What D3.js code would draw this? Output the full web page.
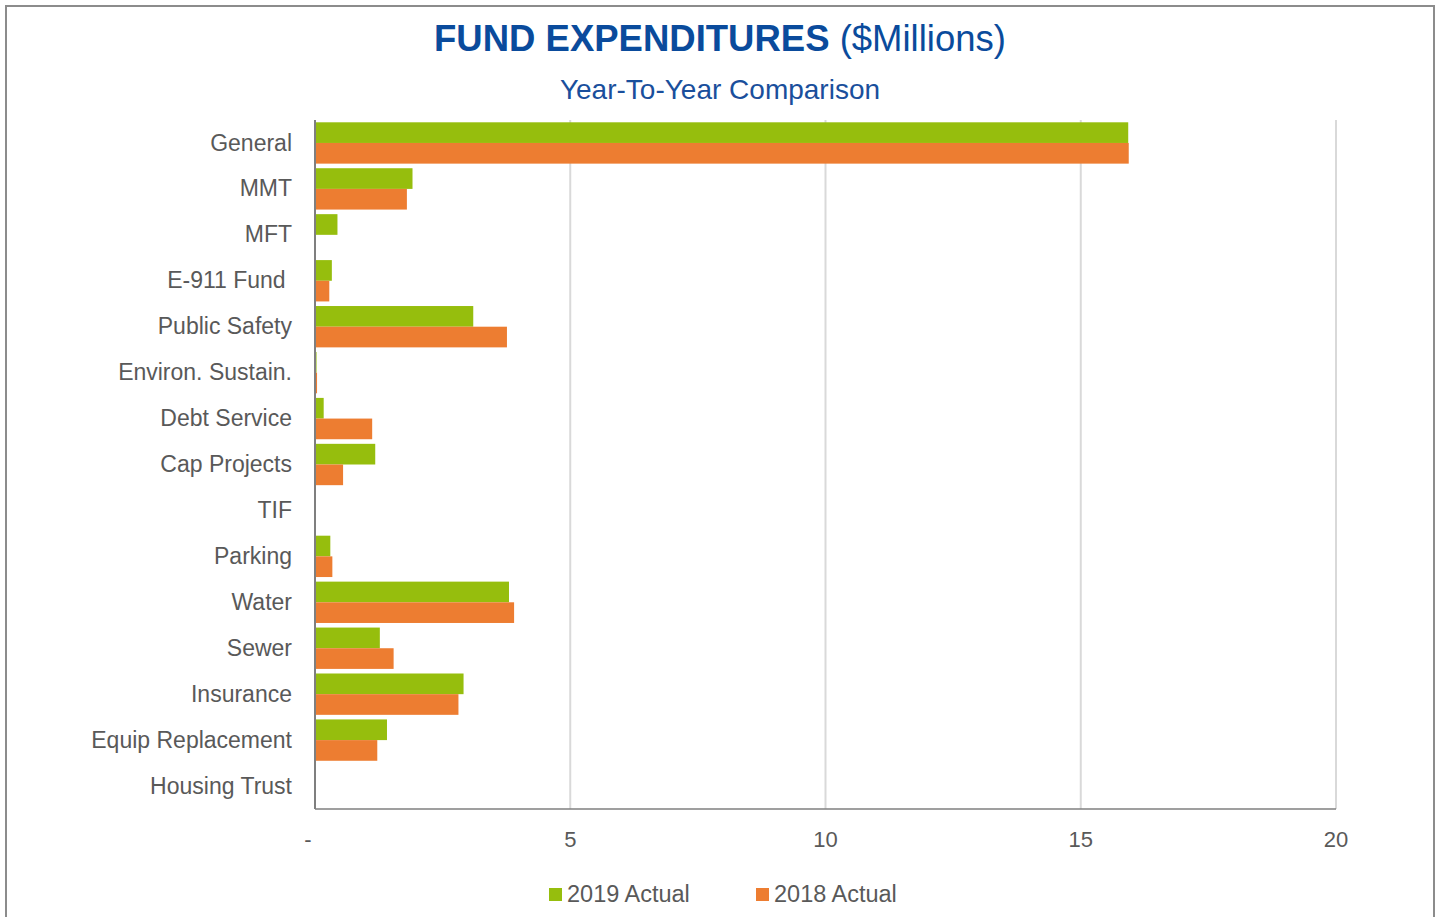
<!DOCTYPE html>
<html>
<head>
<meta charset="utf-8">
<script src="https://cdn.jsdelivr.net/npm/d3@7"></script>
<style>
  body { margin: 0; background: #fff; }
  svg text { font-family: "Liberation Sans", Arial, sans-serif; }
</style>
</head>
<body>
<div id="chart"></div>
<script>
const categories = ['General', 'MMT', 'MFT', 'E-911 Fund ', 'Public Safety', 'Environ. Sustain.',
  'Debt Service', 'Cap Projects', 'TIF', 'Parking', 'Water', 'Sewer', 'Insurance',
  'Equip Replacement', 'Housing Trust'];
const actual2019 = [15.93, 1.91, 0.44, 0.33, 3.10, 0.03, 0.17, 1.18, 0, 0.30, 3.80, 1.27, 2.91, 1.41, 0.01];
const actual2018 = [15.94, 1.80, 0, 0.28, 3.76, 0.04, 1.12, 0.55, 0, 0.34, 3.90, 1.54, 2.81, 1.22, 0.01];
const seriesNames = ['2019 Actual', '2018 Actual'];
const xTicks = [0, 5, 10, 15, 20];

const width = 1440;
const height = 917;
const margin = { top: 120, right: 104, bottom: 108, left: 315 };
const colors = ['#96be0d', '#ed7d31'];
const textColor = '#595959';

const svg = d3.select('#chart')
  .append('svg')
  .attr('width', width)
  .attr('height', height);

// outer frame
svg.append('rect')
  .attr('x', 6).attr('y', 6)
  .attr('width', 1428).attr('height', 920)
  .attr('fill', 'none')
  .attr('stroke', '#8c8c8c')
  .attr('stroke-width', 2);

const x = d3.scaleLinear()
  .domain([0, 20])
  .range([margin.left, width - margin.right]);

const y = d3.scaleBand()
  .domain(categories)
  .range([margin.top, height - margin.bottom])
  .paddingInner(0.1)
  .paddingOuter(0.05);

const ySub = d3.scaleBand()
  .domain(seriesNames)
  .range([0, y.bandwidth()]);

// gridlines
svg.append('g')
  .selectAll('line')
  .data(xTicks.slice(1))
  .join('line')
    .attr('x1', d => x(d)).attr('x2', d => x(d))
    .attr('y1', margin.top).attr('y2', height - margin.bottom)
    .attr('stroke', '#d9d9d9')
    .attr('stroke-width', 2);

// bars
const rows = categories.map((c, i) => ({ c, vals: [actual2019[i], actual2018[i]] }));
svg.append('g')
  .selectAll('g')
  .data(rows)
  .join('g')
    .attr('transform', d => `translate(0,${y(d.c)})`)
  .selectAll('rect')
  .data(d => d.vals.map((v, j) => ({ v, j })))
  .join('rect')
    .attr('x', x(0))
    .attr('y', d => ySub(seriesNames[d.j]))
    .attr('width', d => x(d.v) - x(0))
    .attr('height', ySub.bandwidth())
    .attr('fill', d => colors[d.j]);

// axes lines
svg.append('line')
  .attr('x1', x(0)).attr('x2', x(0))
  .attr('y1', margin.top).attr('y2', height - margin.bottom)
  .attr('stroke', '#7f7f7f').attr('stroke-width', 2);
svg.append('line')
  .attr('x1', x(0)).attr('x2', x(20))
  .attr('y1', height - margin.bottom).attr('y2', height - margin.bottom)
  .attr('stroke', '#7f7f7f').attr('stroke-width', 1.5);

// category labels
svg.append('g')
  .selectAll('text')
  .data(categories)
  .join('text')
    .attr('x', 292)
    .attr('y', d => y(d) + y.bandwidth() / 2)
    .attr('dy', '0.33em')
    .attr('text-anchor', 'end')
    .attr('font-size', '23px')
    .attr('fill', textColor)
    .style('white-space', 'pre')
    .text(d => d);

// x tick labels
svg.append('g')
  .selectAll('text')
  .data(xTicks)
  .join('text')
    .attr('x', d => d === 0 ? x(d) - 7 : x(d))
    .attr('y', 847)
    .attr('text-anchor', 'middle')
    .attr('font-size', '22px')
    .attr('fill', textColor)
    .text(d => d === 0 ? '-' : d);

// title
const title = svg.append('text')
  .attr('x', 720)
  .attr('y', 51)
  .attr('text-anchor', 'middle')
  .attr('fill', '#0a4b9c')
  .attr('font-size', '36.5px');
title.append('tspan').attr('font-weight', 'bold').text('FUND EXPENDITURES');
title.append('tspan').text(' ($Millions)');

svg.append('text')
  .attr('x', 720)
  .attr('y', 99)
  .attr('text-anchor', 'middle')
  .attr('fill', '#1a4f9c')
  .attr('font-size', '28px')
  .text('Year-To-Year Comparison');

// legend
const legendX = [549, 756];
const legend = svg.append('g')
  .selectAll('g')
  .data(seriesNames)
  .join('g')
    .attr('transform', (d, i) => `translate(${legendX[i]},888)`);
legend.append('rect')
  .attr('width', 13).attr('height', 13)
  .attr('fill', (d, i) => colors[i]);
legend.append('text')
  .attr('x', 18)
  .attr('y', 14)
  .attr('font-size', '23.5px')
  .attr('fill', textColor)
  .text(d => d);
</script>
</body>
</html>
